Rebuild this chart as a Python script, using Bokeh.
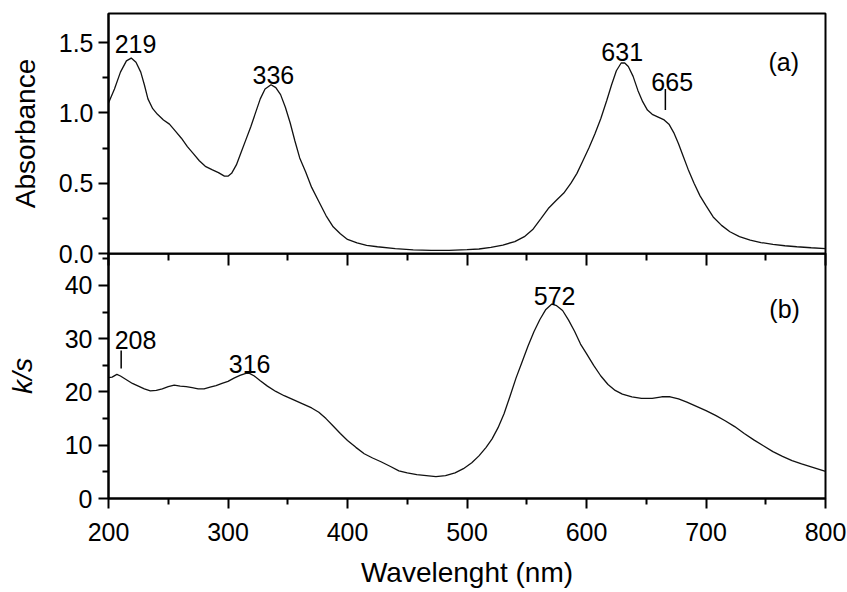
from bokeh.plotting import figure
from bokeh.layouts import column
from bokeh.models import LinearAxis, FixedTicker, Range1d, PrintfTickFormatter
from bokeh.core.properties import value
from bokeh.embed import file_html
from bokeh.resources import INLINE

# ---- data: (a) absorbance spectrum ----
abs_wl = [200, 205, 210, 215, 219, 223, 227, 230, 233, 237, 241, 246, 251, 256, 261, 266, 271, 276,
          281, 287, 292, 297, 300, 303, 307, 311, 315, 319, 323, 327, 331, 336, 340, 344, 348, 352,
          356, 360, 365, 370, 376, 382, 388, 394, 400, 408, 416, 425, 440, 455, 470, 485, 500, 510,
          520, 530, 540, 548, 555, 562, 568, 575, 581, 587, 592, 597, 602, 607, 612, 617, 621, 625,
          629, 632, 635, 639, 643, 647, 651, 655, 660, 665, 669, 673, 677, 681, 685, 690, 695, 700,
          706, 713, 720, 728, 737, 746, 756, 766, 776, 788, 800]
abs_val = [1.07, 1.17, 1.29, 1.37, 1.39, 1.36, 1.29, 1.20, 1.10, 1.03, 0.99, 0.95, 0.92, 0.87, 0.82,
           0.76, 0.71, 0.66, 0.62, 0.595, 0.575, 0.55, 0.55, 0.57, 0.63, 0.72, 0.81, 0.90, 1.00, 1.10,
           1.17, 1.20, 1.18, 1.13, 1.04, 0.93, 0.80, 0.68, 0.58, 0.47, 0.37, 0.27, 0.19, 0.14, 0.10,
           0.075, 0.058, 0.048, 0.034, 0.026, 0.022, 0.022, 0.027, 0.032, 0.043, 0.06, 0.085, 0.12,
           0.17, 0.25, 0.32, 0.38, 0.43, 0.50, 0.57, 0.66, 0.75, 0.85, 0.96, 1.09, 1.20, 1.30, 1.355,
           1.355, 1.33, 1.26, 1.16, 1.08, 1.02, 0.99, 0.97, 0.95, 0.92, 0.86, 0.78, 0.69, 0.60, 0.50,
           0.41, 0.34, 0.26, 0.20, 0.155, 0.12, 0.095, 0.078, 0.065, 0.055, 0.048, 0.041, 0.035]

# ---- data: (b) k/s spectrum ----
ks_wl = [200, 203, 207, 210, 215, 220, 225, 230, 235, 240, 245, 250, 255, 260, 265, 270, 275, 280,
         285, 290, 295, 300, 305, 310, 315, 318, 322, 327, 333, 340, 347, 355, 362, 370, 376, 382,
         388, 394, 400, 407, 414, 421, 428, 436, 443, 450, 458, 466, 474, 482, 490, 497, 504, 510,
         516, 521, 526, 531, 536, 541, 546, 551, 556, 561, 566, 571, 575, 580, 585, 590, 595, 600,
         606, 612, 618, 624, 630, 638, 646, 655, 663, 670, 677, 684, 692, 700, 708, 716, 724, 732,
         740, 748, 756, 764, 772, 780, 790, 800]
ks_val = [22.7, 22.8, 23.3, 23.0, 22.3, 21.6, 21.1, 20.6, 20.2, 20.3, 20.6, 21.0, 21.3, 21.1, 21.0,
          20.8, 20.6, 20.6, 20.9, 21.2, 21.6, 22.0, 22.6, 23.1, 23.5, 23.5, 23.0, 22.1, 21.1, 20.1,
          19.3, 18.5, 17.8, 17.0, 16.2, 15.0, 13.6, 12.2, 10.9, 9.6, 8.4, 7.6, 6.9, 6.0, 5.2, 4.8,
          4.5, 4.3, 4.1, 4.3, 4.8, 5.6, 6.7, 8.0, 9.6, 11.2, 13.3, 15.9, 19.2, 22.6, 25.6, 28.6, 31.3,
          33.6, 35.5, 36.5, 36.2, 35.3, 33.5, 31.4, 29.0, 27.2, 25.0, 23.0, 21.4, 20.3, 19.6, 19.1,
          18.8, 18.8, 19.1, 19.1, 18.7, 18.1, 17.3, 16.5, 15.6, 14.6, 13.5, 12.2, 11.0, 9.9, 8.8,
          7.9, 7.1, 6.5, 5.8, 5.1]

# ---- annotations ----
a_lbl_text = ["219", "336", "631", "665", "(a)"]
a_lbl_x = [222.6, 338.0, 629.9, 671.7, 765.1]
a_lbl_y = [1.49, 1.273, 1.432, 1.218, 1.36]
a_mark_x = [666.0]
a_mark_y0 = [1.02]
a_mark_y1 = [1.17]

b_lbl_text = ["208", "316", "572", "(b)"]
b_lbl_x = [222.6, 318.1, 573.3, 765.8]
b_lbl_y = [29.8, 25.3, 38.1, 35.6]
b_mark_x = [210.6]
b_mark_y0 = [24.4]
b_mark_y1 = [27.8]

x_ticks = [200, 300, 400, 500, 600, 700, 800]
x_minor = [250, 350, 450, 550, 650, 750]
a_ticks = [0.0, 0.5, 1.0, 1.5]
a_minor = [0.25, 0.75, 1.25]
b_ticks = [0, 10, 20, 30, 40]
b_minor = [5, 15, 25, 35, 45]

FONT = "Liberation Sans"
LBL = "25px"
TITLE = "28px"
INK = "#111111"
OVER = 16  # overlap so the top panel's "0.0" label is not cut


def style_axis(ax):
    ax.axis_line_width = 2
    ax.axis_line_color = "black"
    ax.major_tick_line_width = 2
    ax.minor_tick_line_width = 2
    ax.major_tick_line_color = "black"
    ax.minor_tick_line_color = "black"
    ax.major_label_text_font = FONT
    ax.major_label_text_font_size = LBL
    ax.major_label_text_color = "black"
    ax.axis_label_text_font = FONT
    ax.axis_label_text_font_size = TITLE
    ax.axis_label_text_font_style = "normal"
    ax.axis_label_text_color = "black"


# ---- top panel ----
top = figure(width=847, height=253 + OVER, x_range=Range1d(200, 800), y_range=Range1d(0, 1.707),
             output_backend="svg", toolbar_location=None, x_axis_location=None,
             min_border_left=108, min_border_right=22, min_border_top=13, min_border_bottom=OVER)
top.grid.visible = False
top.outline_line_color = "black"
top.outline_line_width = 2
top.background_fill_color = "white"
top.border_fill_color = "white"
ya = top.yaxis[0]
style_axis(ya)
ya.ticker = FixedTicker(ticks=a_ticks, minor_ticks=a_minor)
ya.formatter = PrintfTickFormatter(format="%.1f")
ya.major_tick_in = 0
ya.major_tick_out = 10
ya.minor_tick_in = 0
ya.minor_tick_out = 6
ya.major_label_standoff = 5
ya.axis_label = "Absorbance"
ya.axis_label_standoff = 15

top.line(abs_wl, abs_val, line_color=INK, line_width=1.3)
top.text(x=a_lbl_x, y=a_lbl_y, text=a_lbl_text, text_font=value(FONT), text_font_size=value(LBL),
         text_align="center", text_baseline="alphabetic", text_color="black")
top.segment(x0=a_mark_x, y0=a_mark_y0, x1=a_mark_x, y1=a_mark_y1, line_color="black", line_width=1.5)

# ---- bottom panel ----
bot = figure(width=847, height=339, x_range=top.x_range, y_range=Range1d(0, 46),
             output_backend="svg", toolbar_location=None,
             min_border_left=108, min_border_right=22, min_border_top=0, min_border_bottom=94,
             margin=(-OVER, 0, 0, 0))
bot.grid.visible = False
bot.outline_line_color = "black"
bot.outline_line_width = 2
bot.background_fill_color = None
bot.border_fill_color = None

xa = bot.xaxis[0]
style_axis(xa)
xa.ticker = FixedTicker(ticks=x_ticks, minor_ticks=x_minor)
xa.major_tick_in = 0
xa.major_tick_out = 10
xa.minor_tick_in = 0
xa.minor_tick_out = 6
xa.major_label_standoff = 14
xa.axis_label = "Wavelenght (nm)"
xa.axis_label_standoff = 13

yb = bot.yaxis[0]
style_axis(yb)
yb.ticker = FixedTicker(ticks=b_ticks, minor_ticks=b_minor)
yb.major_tick_in = 0
yb.major_tick_out = 10
yb.minor_tick_in = 0
yb.minor_tick_out = 6
yb.major_label_standoff = 6
yb.axis_label = "k/s"
yb.axis_label_text_font_style = "italic"
yb.axis_label_standoff = 24

shared = LinearAxis(ticker=FixedTicker(ticks=x_ticks, minor_ticks=x_minor))
shared.major_tick_in = 12
shared.major_tick_out = 0
shared.minor_tick_in = 7
shared.minor_tick_out = 0
shared.major_tick_line_width = 2
shared.minor_tick_line_width = 2
shared.major_label_overrides = {t: "" for t in x_ticks}
shared.major_label_standoff = 0
shared.axis_line_width = 2
bot.add_layout(shared, "above")

bot.line(ks_wl, ks_val, line_color=INK, line_width=1.3)
bot.text(x=b_lbl_x, y=b_lbl_y, text=b_lbl_text, text_font=value(FONT), text_font_size=value(LBL),
         text_align="center", text_baseline="alphabetic", text_color="black")
bot.segment(x0=b_mark_x, y0=b_mark_y0, x1=b_mark_x, y1=b_mark_y1, line_color="black", line_width=1.5)

layout = column(top, bot, spacing=0)
open("out.html", "w").write(file_html(layout, INLINE))
